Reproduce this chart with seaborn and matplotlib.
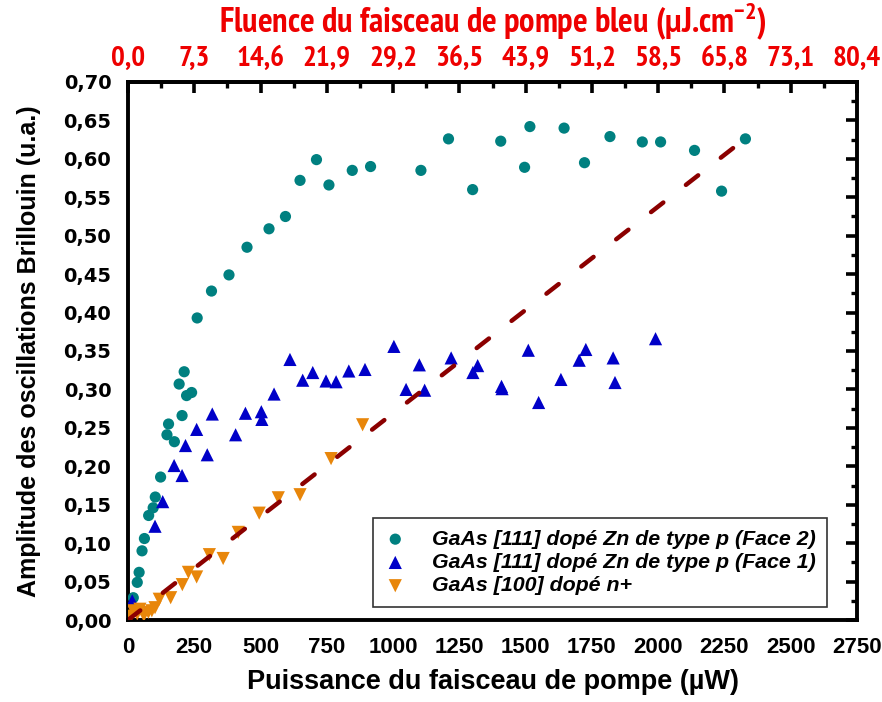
import numpy as np
import pandas as pd
import matplotlib
matplotlib.use("Agg")
import matplotlib.pyplot as plt
import matplotlib.lines as mlines
import seaborn as sns
from matplotlib.ticker import MultipleLocator, FixedLocator, FuncFormatter
from matplotlib import font_manager

# GaAs [111] Zn-doped p-type, face 2
p_face2 = [20, 35, 42, 53, 62, 78, 95, 103, 123, 147, 153, 175, 193, 204, 212, 221, 240,
           261, 315, 381, 449, 532, 594, 649, 711, 758, 846, 915, 1105, 1209, 1300, 1406,
           1496, 1516, 1645, 1722, 1818, 1940, 2009, 2137, 2239, 2329]
a_face2 = [0.029, 0.049, 0.062, 0.090, 0.106, 0.136, 0.146, 0.160, 0.186, 0.241, 0.255, 0.232,
           0.307, 0.266, 0.323, 0.292, 0.296, 0.393, 0.428, 0.449, 0.485, 0.509, 0.525, 0.572,
           0.599, 0.566, 0.585, 0.590, 0.585, 0.626, 0.560, 0.623, 0.589, 0.642, 0.640, 0.595,
           0.629, 0.622, 0.622, 0.611, 0.558, 0.626]

# GaAs [111] Zn-doped p-type, face 1
p_face1 = [16, 102, 131, 174, 204, 217, 259, 299, 318, 406, 443, 503, 505, 551, 611, 659,
           697, 747, 785, 833, 894, 1003, 1049, 1099, 1119, 1219, 1301, 1319, 1409, 1411,
           1510, 1549, 1633, 1702, 1727, 1830, 1837, 1990]
a_face1 = [0.025, 0.122, 0.154, 0.201, 0.188, 0.227, 0.248, 0.215, 0.268, 0.241, 0.269, 0.271,
           0.261, 0.294, 0.339, 0.312, 0.322, 0.311, 0.310, 0.324, 0.326, 0.356, 0.300, 0.332,
           0.299, 0.341, 0.322, 0.331, 0.304, 0.301, 0.351, 0.283, 0.313, 0.338, 0.352, 0.341,
           0.309, 0.366]

# GaAs [100] n+ doped
p_n = [10, 20, 35, 45, 60, 77, 90, 102, 118, 161, 205, 228, 259, 307, 359, 416, 495, 567,
       649, 766, 885]
a_n = [0.005, 0.012, 0.008, 0.014, 0.006, 0.010, 0.012, 0.016, 0.027, 0.029, 0.046, 0.062,
       0.056, 0.085, 0.080, 0.114, 0.139, 0.159, 0.163, 0.210, 0.254]

# Linear fit of the n+ series
fit_slope = 2.69e-4
fit_p = [0, 2285]

# Axis ticks
x_ticks = [0, 250, 500, 750, 1000, 1250, 1500, 1750, 2000, 2250, 2500, 2750]
fluence_labels = ["0,0", "7,3", "14,6", "21,9", "29,2", "36,5", "43,9", "51,2", "58,5",
                  "65,8", "73,1", "80,4"]

labels = ["GaAs [111] dopé Zn de type p (Face 2)",
          "GaAs [111] dopé Zn de type p (Face 1)",
          "GaAs [100] dopé n+"]

sns.set_theme(style="white")
plt.rcParams["font.family"] = ["Liberation Sans", "DejaVu Sans"]
for k in ["text.color", "axes.labelcolor", "xtick.color", "ytick.color"]:
    plt.rcParams[k] = "black"
plt.rcParams["axes.unicode_minus"] = False

names = {f.name for f in font_manager.fontManager.ttflist}
narrow = next((n for n in ["PT Sans Narrow", "Pragati Narrow", "Archivo Narrow"] if n in names),
              "Liberation Sans")
plt.rcParams["mathtext.fontset"] = "custom"
plt.rcParams["mathtext.bf"] = f"{narrow}:bold"
plt.rcParams["mathtext.rm"] = narrow

RED = "#EE0000"

fig = plt.figure(figsize=(8.82, 7.02), dpi=100)
ax = fig.add_axes([0.1451, 0.1168, 0.8266, 0.7664])

df2 = pd.DataFrame({"p": p_face2, "a": a_face2})
df1 = pd.DataFrame({"p": p_face1, "a": a_face1})
dfn = pd.DataFrame({"p": p_n, "a": a_n})
dff = pd.DataFrame({"p": fit_p, "a": [fit_slope * v for v in fit_p]})

sns.scatterplot(data=df2, x="p", y="a", ax=ax, marker="o", color="#008080", s=65,
                edgecolor="none", label=labels[0], zorder=3)
sns.scatterplot(data=df1, x="p", y="a", ax=ax, marker="^", color="#0000C8", s=90,
                edgecolor="none", label=labels[1], zorder=3)
sns.scatterplot(data=dfn, x="p", y="a", ax=ax, marker="v", color="#E8860A", s=90,
                edgecolor="none", label=labels[2], zorder=3)
sns.lineplot(data=dff, x="p", y="a", ax=ax, color="#8B0000", lw=3.2, zorder=4,
             legend=False)
fit_line = ax.lines[-1]
fit_line.set_dashes((3.5, 6.45))
fit_line.set_dash_capstyle("round")

ax.set_xlim(0, 2750)
ax.set_ylim(0, 0.70)

for sp in ax.spines.values():
    sp.set_linewidth(2.8)
    sp.set_color("black")

ax.xaxis.set_major_locator(FixedLocator(x_ticks))
ax.xaxis.set_minor_locator(MultipleLocator(125))
ax.yaxis.set_major_locator(MultipleLocator(0.05))
ax.yaxis.set_minor_locator(MultipleLocator(0.025))
ax.yaxis.set_major_formatter(FuncFormatter(lambda v, _: f"{v:.2f}".replace(".", ",")))

ax.tick_params(axis="both", which="major", direction="out", length=8, width=2.6, pad=4)
ax.tick_params(axis="both", which="minor", direction="out", length=4.5, width=2.4)
ax.tick_params(axis="x", which="major", pad=4)
ax.yaxis.set_tick_params(which="both", right=True)
for tk in ax.yaxis.get_major_ticks() + ax.yaxis.get_minor_ticks():
    tk.tick2line.set_marker(mlines.TICKLEFT)
for t in ax.get_xticklabels():
    t.set_fontweight("bold")
    t.set_fontsize(16)
for t in ax.get_yticklabels():
    t.set_fontweight("bold")
    t.set_family("DejaVu Sans")
    t.set_fontsize(14)

ax.set_xlabel("Puissance du faisceau de pompe (µW)", fontsize=19.5, fontweight="bold",
              labelpad=8)
ax.set_ylabel("Amplitude des oscillations Brillouin (u.a.)", fontsize=18,
              fontweight="bold", labelpad=16)

# Top axis: pump fluence
top = ax.secondary_xaxis("top")
top.xaxis.set_major_locator(FixedLocator(x_ticks))
top.xaxis.set_minor_locator(MultipleLocator(125))
top.set_xticklabels(fluence_labels)
top.tick_params(axis="x", which="major", direction="in", length=8, width=2.6,
                labelcolor=RED, pad=7)
top.tick_params(axis="x", which="minor", direction="in", length=4.5, width=2.4)
top.spines["top"].set_linewidth(2.8)
for t in top.get_xticklabels():
    t.set_fontweight("bold")
    t.set_family(narrow)
    t.set_fontsize(21)
top.set_xlabel("Fluence du faisceau de pompe bleu (µJ.cm$^{\\mathbf{-2}}$)", fontsize=24.8,
               fontweight="bold", color=RED, family=narrow, labelpad=9)

leg = ax.legend(loc="lower right", bbox_to_anchor=(0.959, 0.024), frameon=True,
                fancybox=False, edgecolor="black", fontsize=15.4, handletextpad=1.2,
                borderpad=0.55, labelspacing=0.2, markerscale=1.0, handlelength=1.0,
                borderaxespad=0)
leg.get_frame().set_linewidth(1.2)
for t in leg.get_texts():
    t.set_fontweight("bold")
    t.set_fontstyle("italic")

fig.savefig("out.png", dpi=100)
